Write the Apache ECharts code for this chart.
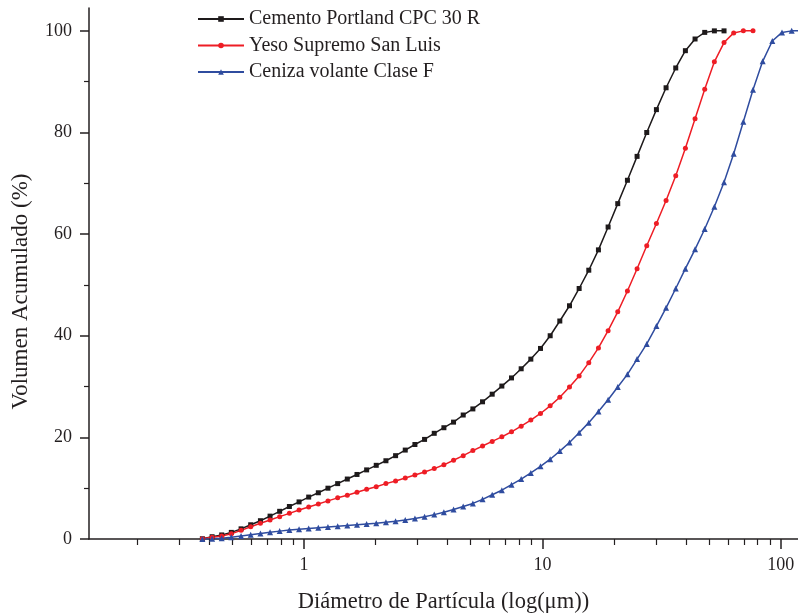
<!DOCTYPE html>
<html>
<head>
<meta charset="utf-8">
<script src="https://cdn.jsdelivr.net/npm/echarts@6/dist/echarts.min.js"></script>
<style>html,body{margin:0;padding:0;background:#fff}#c{width:798px;height:615px}</style>
</head>
<body>
<div id="c"></div>
<script>
// Particle size channels (µm)
const sizes = [0.375,0.412,0.452,0.496,0.545,0.598,0.657,0.721,0.791,0.869,0.954,1.047,1.149,1.261,1.385,1.520,1.669,1.832,2.010,2.207,2.423,2.660,2.920,3.205,3.519,3.863,4.240,4.655,5.110,5.610,6.158,6.760,7.421,8.147,8.943,9.817,10.78,11.83,12.99,14.26,15.65,17.18,18.86,20.70,22.73,24.95,27.39,30.07,33.01,36.24,39.78,43.67,47.94,52.62,57.77,63.41,69.61,76.42,83.89,92.09,101.1,111.0,121.8];
const seriesNames = ['Cemento Portland CPC 30 R','Yeso Supremo San Luis','Ceniza volante Clase F'];
// Cumulative volume (%)
const cemento = [0.05,0.45,0.8,1.3,2.0,2.8,3.6,4.5,5.45,6.4,7.3,8.25,9.1,10.0,10.9,11.8,12.7,13.6,14.5,15.4,16.4,17.5,18.6,19.6,20.8,21.9,23.0,24.4,25.6,27.0,28.5,30.1,31.7,33.5,35.4,37.5,40.0,42.9,45.9,49.3,52.9,56.9,61.4,66.0,70.6,75.3,80.0,84.5,88.8,92.7,96.1,98.4,99.7,100,100];
const yeso = [0.05,0.33,0.6,1.05,1.7,2.4,3.1,3.75,4.4,5.05,5.7,6.3,6.9,7.5,8.1,8.6,9.2,9.8,10.3,10.9,11.4,12.0,12.6,13.2,13.85,14.6,15.5,16.4,17.4,18.3,19.2,20.1,21.1,22.2,23.4,24.7,26.2,27.9,29.9,32.1,34.7,37.6,41.0,44.7,48.8,53.2,57.7,62.1,66.6,71.5,76.9,82.7,88.5,93.9,97.7,99.6,100,100];
const ceniza = [0.0,0.05,0.15,0.35,0.6,0.85,1.1,1.35,1.55,1.75,1.9,2.05,2.2,2.35,2.5,2.65,2.8,2.95,3.1,3.3,3.5,3.75,4.05,4.4,4.8,5.25,5.8,6.4,7.0,7.8,8.7,9.6,10.7,11.8,13.0,14.3,15.7,17.3,19.0,20.9,22.9,25.1,27.4,29.9,32.4,35.4,38.4,41.9,45.5,49.3,53.2,57.0,61.0,65.4,70.2,75.8,82.1,88.4,94.0,98.0,99.7,100,100];
// Tick values
const xMajorTicks = [1,10,100];
const xMinorTicks = [0.2,0.3,0.4,0.5,0.6,0.7,0.8,0.9,2,3,4,5,6,7,8,9,20,30,40,50,60,70,80,90];
const yMajorTicks = [0,20,40,60,80,100];
const yMinorTicks = [10,30,50,70,90];

const zip = (vals) => vals.map((v,i)=>[sizes[i], v]);
const axisColor = '#231f20';
const font = 'Liberation Serif';
const xMin = 0.1255, xMax = 118, yMin = 0, yMax = 104.5;

const chart = echarts.init(document.getElementById('c'), null, {renderer:'canvas'});
chart.setOption({
  animation:false,
  backgroundColor:'#fff',
  textStyle:{fontFamily:font},
  grid:{left:89,right:0,top:8,bottom:76,outerBoundsMode:'none',containLabel:false},
  legend:{
    left:197, top:9, padding:0, orient:'vertical', itemWidth:46, itemHeight:7, itemGap:6.5,
    textStyle:{fontFamily:font,fontSize:20,color:axisColor},
    data:seriesNames
  },
  xAxis:[{
    type:'log', logBase:10, min:xMin, max:xMax,
    name:'Diámetro de Partícula (log(μm))', nameLocation:'middle', nameGap:52,
    nameTextStyle:{fontFamily:font,fontSize:22.5,color:axisColor},
    axisLine:{lineStyle:{color:axisColor,width:1.5}},
    axisTick:{inside:false,length:10,lineStyle:{color:axisColor,width:1.5},customValues:xMajorTicks},
    axisLabel:{fontFamily:font,fontSize:18,color:axisColor,margin:17,customValues:xMajorTicks},
    splitLine:{show:false}
  },{
    type:'log', logBase:10, min:xMin, max:xMax, position:'bottom',
    axisLine:{show:false},
    axisTick:{inside:false,length:6,lineStyle:{color:axisColor,width:1.2},customValues:xMinorTicks},
    axisLabel:{show:false},
    splitLine:{show:false}
  }],
  yAxis:[{
    type:'value', min:yMin, max:yMax,
    name:'Volumen Acumulado (%)', nameLocation:'middle', nameGap:57,
    nameTextStyle:{fontFamily:font,fontSize:23,color:axisColor,padding:[0,36,0,0]},
    axisLine:{show:true,lineStyle:{color:axisColor,width:1.5}},
    axisTick:{show:true,inside:false,length:9,lineStyle:{color:axisColor,width:1.5},customValues:yMajorTicks},
    axisLabel:{fontFamily:font,fontSize:18,color:axisColor,margin:17,customValues:yMajorTicks},
    splitLine:{show:false}
  },{
    type:'value', min:yMin, max:yMax, position:'left',
    axisLine:{show:false},
    axisTick:{show:true,inside:false,length:5,lineStyle:{color:axisColor,width:1.2},customValues:yMinorTicks},
    axisLabel:{show:false},
    splitLine:{show:false}
  }],
  series:[
    {name:seriesNames[0], type:'line', data:zip(cemento), symbol:'rect', symbolSize:5,
     itemStyle:{color:'#1e1a1b'}, lineStyle:{color:'#1e1a1b',width:1.5}},
    {name:seriesNames[1], type:'line', data:zip(yeso), symbol:'circle', symbolSize:5,
     itemStyle:{color:'#ee1d25'}, lineStyle:{color:'#ee1d25',width:1.5}},
    {name:seriesNames[2], type:'line', data:zip(ceniza), symbol:'triangle', symbolSize:6,
     itemStyle:{color:'#2f4c9f'}, lineStyle:{color:'#2f4c9f',width:1.5}}
  ]
});
</script>
</body>
</html>
